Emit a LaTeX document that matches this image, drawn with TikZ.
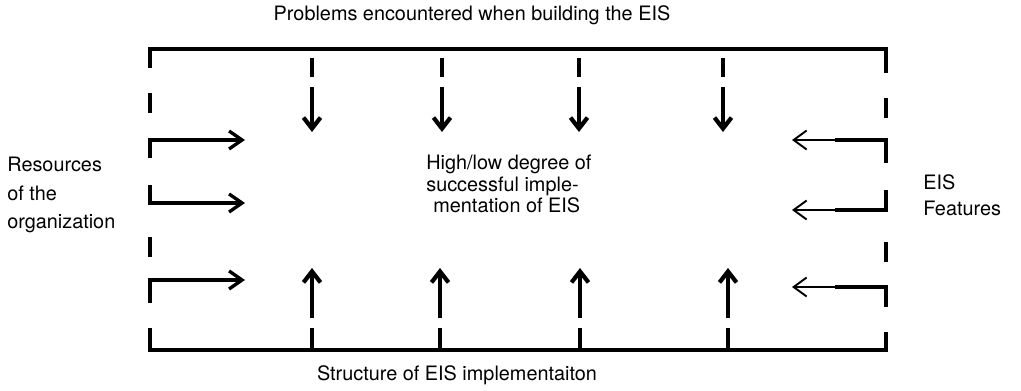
\documentclass[tikz,border=0pt]{standalone}
\usepackage{fontspec}
\setmainfont{TeX Gyre Heros}
\usetikzlibrary{arrows.meta,positioning}

\begin{document}
\begin{tikzpicture}[
  x=0.02cm, y=-0.02cm,
  frame/.style={line width=1.8pt, line cap=butt, line join=miter},
  dashpart/.style={line width=2.6pt},
  inflow/.style={line width=1.9pt, -{Straight Barb[length=2.6mm,width=3.6mm,line width=1.9pt]}},
  vflow/.style={line width=2.6pt, -{Straight Barb[length=2.2mm,width=3.4mm,line width=2.4pt]}},
  outflow/.style={line width=1.1pt, -{Straight Barb[length=2.6mm,width=3.8mm,line width=1.1pt]}},
  label/.style={inner sep=0pt, font=\fontsize{11.3}{13}\selectfont}
]
\useasboundingbox (0,0) rectangle (1021,391);

\coordinate (tl) at (150,49);
\coordinate (tr) at (886,49);
\coordinate (bl) at (150,350);
\coordinate (br) at (886,350);

\draw[frame] (150,68) -- (tl) -- (tr) -- (886,73);
\draw[frame] (150,328) -- (bl) -- (br) -- (886,332);

\foreach \x/\ya/\yb in {150/93/113, 150/237/257, 886/98/118, 886/242/262}
  \draw[dashpart] (\x,\ya) -- (\x,\yb);

\foreach \ya/\yb in {158/140, 185/203, 303/280}
  \draw[inflow] (150,\ya) -- (150,\yb) -- (245,\yb);

\foreach \ya/\yb in {163/140, 190/210, 307/287} {
  \draw[frame] (886,\ya) -- (886,\yb) -- (835,\yb);
  \draw[outflow] (838,\yb) -- (792,\yb);
}

\foreach \x in {312,442,579,723} {
  \draw[dashpart] (\x,58) -- (\x,77);
  \draw[vflow] (\x,87) -- (\x,132);
}
\foreach \x in {312,440,580,728} {
  \draw[dashpart] (\x,350) -- (\x,328);
  \draw[vflow] (\x,318) -- (\x,268);
}

\node[label, anchor=base] (problems) at (472,21) {Problems encountered when building the EIS};
\node[label, anchor=base] (structure) at (457,381) {Structure of EIS implementaiton};
\node[label, anchor=west, align=left, font=\fontsize{11.3}{16}\selectfont] (resources) at (7,195) {Resources\\of the\\organization};
\node[label, anchor=west, align=left, font=\fontsize{11.3}{15}\selectfont] (features) at (923,195) {EIS\\Features};
\node[label, anchor=west, align=left, font=\fontsize{11.3}{12.3}\selectfont] (degree) at (426,184) {High/low degree of\\successful imple-\\\hspace{4pt}mentation of EIS};
\end{tikzpicture}
\end{document}
